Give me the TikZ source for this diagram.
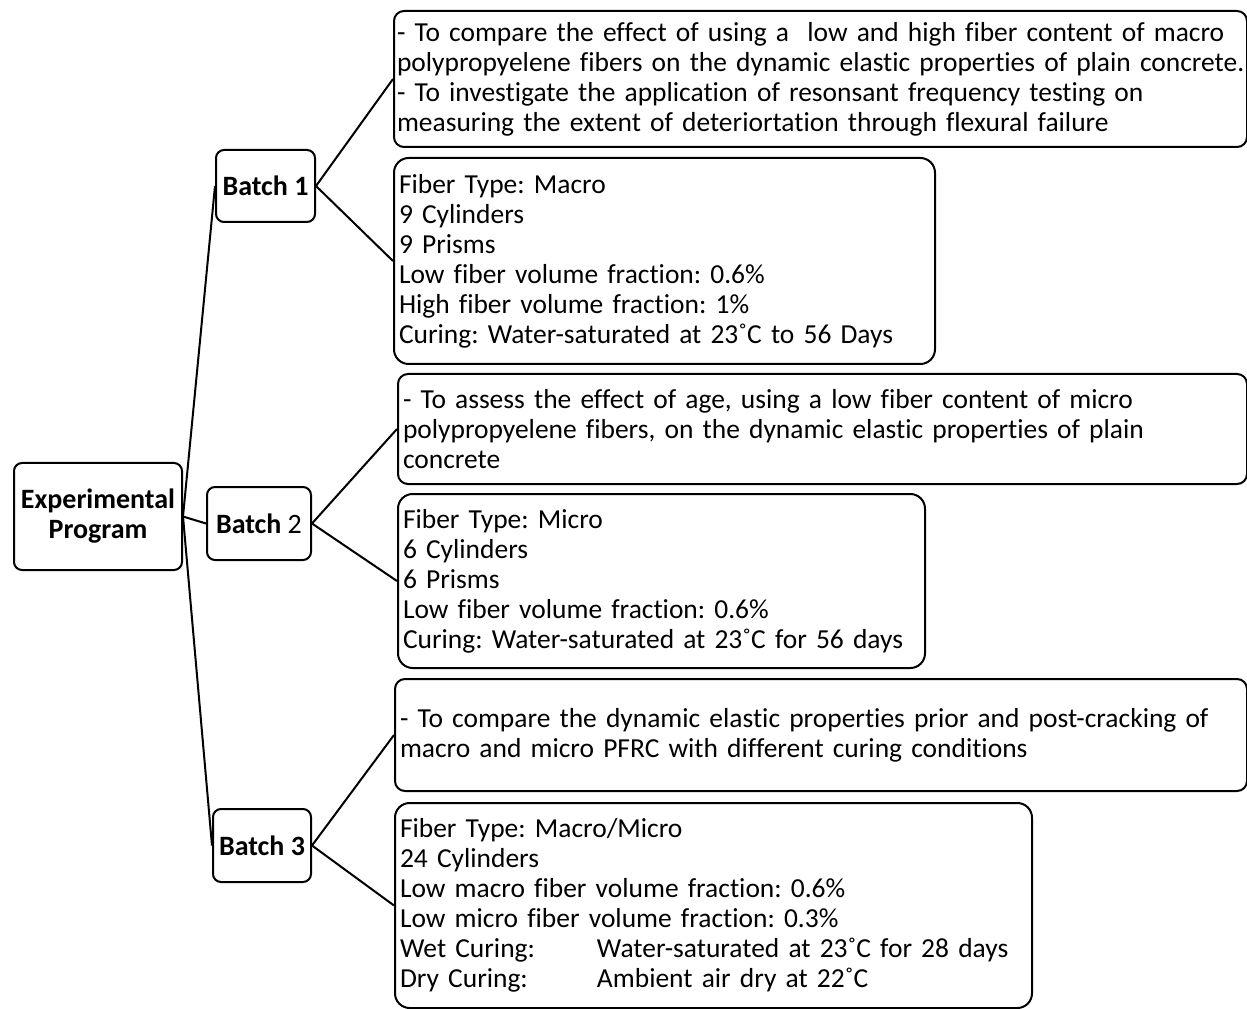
\documentclass[tikz,border=0pt]{standalone}
\usepackage{fontspec}
\setmainfont{Carlito}[Ligatures=NoCommon]
\frenchspacing
\newcommand{\bodyfnt}{\fontsize{20.6pt}{22.5pt}\selectfont\frenchspacing}
\newcommand{\lblfnt}{\fontsize{21pt}{22.5pt}\selectfont\bfseries}
\tikzset{
  infobox/.style={draw, line width=1.5pt, rounded corners=7.5pt, anchor=north west,
    inner xsep=3.75pt, inner ysep=0pt, align=left, font=\bodyfnt},
  batchbox/.style={draw, line width=1.5pt, rounded corners=6pt, anchor=north west,
    inner sep=0pt, align=center, font=\lblfnt},
  link/.style={line width=1.5pt},
}
\begin{document}
\begin{tikzpicture}[x=0.75pt,y=-0.75pt]
\useasboundingbox (0,0) rectangle (1247,1009);

% main and batch boxes
\node[batchbox, minimum width=126pt, minimum height=80.25pt] (exp) at (13,462) {Experimental\\Program};
\node[batchbox, minimum width=74.25pt, minimum height=54pt] (b1) at (215,149) {Batch 1};
\node[batchbox, minimum width=78pt, minimum height=54.75pt] (b2) at (206,486) {Batch \mdseries 2};
\node[batchbox, minimum width=73.5pt, minimum height=54.75pt] (b3) at (212,808) {Batch 3};

% batch 1 boxes
\node[infobox, inner xsep=2.25pt, text width=635.25pt, minimum height=102pt] (a1) at (393,10)
 {\mbox{- To compare the effect of using a \ low and high fiber content of macro}\\
  \mbox{polypropyelene fibers on the dynamic elastic properties of plain concrete.}\\
  \mbox{- To investigate the application of resonsant frequency testing on}\\
  \mbox{measuring the extent of deteriortation through flexural failure}};
\node[infobox, rounded corners=11pt, text width=398.25pt, minimum height=154.5pt] (a2) at (393,157)
 {Fiber Type: Macro\\
  9 Cylinders\\
  9 Prisms\\
  Low fiber volume fraction: 0.6\%\\
  High fiber volume fraction: 1\%\\
  \mbox{Curing: Water-saturated at 23˚C to 56 Days}};

% batch 2 boxes
\node[infobox, text width=629.25pt, minimum height=82.5pt] (c21) at (397,373)
 {\mbox{- To assess the effect of age, using a low fiber content of micro}\\
  \mbox{polypropyelene fibers, on the dynamic elastic properties of plain}\\
  concrete};
\node[infobox, rounded corners=11pt, text width=387.75pt, minimum height=130.5pt] (c22) at (397,493)
 {Fiber Type: Micro\\
  6 Cylinders\\
  6 Prisms\\
  Low fiber volume fraction: 0.6\%\\
  \mbox{Curing: Water-saturated at 23˚C for 56 days}};

% batch 3 boxes
\node[infobox, text width=631.5pt, minimum height=84pt] (c31) at (394,678)
 {\mbox{- To compare the dynamic elastic properties prior and post-cracking of}\\
  \mbox{macro and micro PFRC with different curing conditions}};
\node[infobox, rounded corners=11pt, text width=470.25pt, minimum height=153.75pt] (c32) at (394,802)
 {Fiber Type: Macro/Micro\\
  24 Cylinders\\
  Low macro fiber volume fraction: 0.6\%\\
  Low micro fiber volume fraction: 0.3\%\\
  \mbox{\makebox[147.75pt][l]{Wet Curing:}Water-saturated at 23˚C for 28 days}\\
  \mbox{\makebox[147.75pt][l]{Dry Curing:}Ambient air dry at 22˚C}};

% connectors
\draw[link] (exp.east) -- (b1.west);
\draw[link] (exp.east) -- (b2.west);
\draw[link] (exp.east) -- (b3.west);
\draw[link] (b1.east) -- (a1.west);
\draw[link] (b1.east) -- (a2.west);
\draw[link] (b2.east) -- (c21.west);
\draw[link] (b2.east) -- (c22.west);
\draw[link] (b3.east) -- (c31.west);
\draw[link] (b3.east) -- (c32.west);
\end{tikzpicture}
\end{document}
